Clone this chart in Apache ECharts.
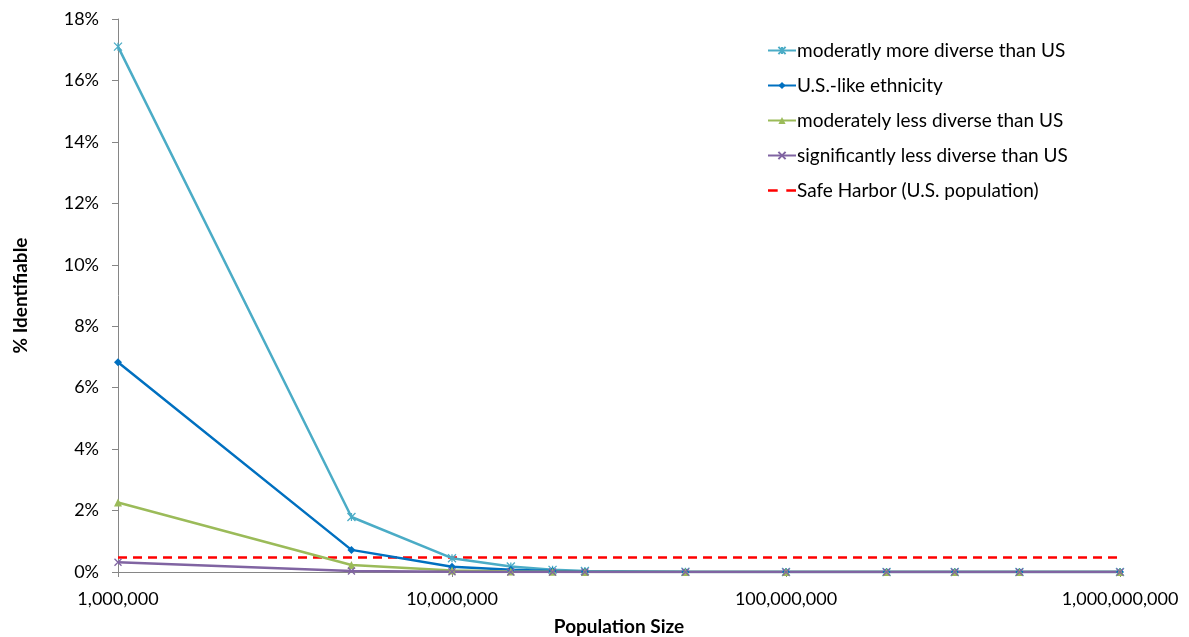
<!DOCTYPE html>
<html><head><meta charset="utf-8">
<script src="https://cdn.jsdelivr.net/npm/echarts@6/dist/echarts.min.js"></script>
<style>html,body{margin:0;padding:0;background:#fff}#c{width:1189px;height:637px}</style>
</head><body><div id="c"></div>
<script>
const populations = [1e6, 5e6, 1e7, 1.5e7, 2e7, 2.5e7, 5e7, 1e8, 2e8, 3.2e8, 5e8, 1e9];
const moreDiverse = [17.1, 1.79, 0.45, 0.18, 0.07, 0.03, 0.01, 0, 0, 0, 0, 0];
const usLike = [6.83, 0.72, 0.17, 0.07, 0.03, 0.01, 0, 0, 0, 0, 0, 0];
const lessDiverse = [2.26, 0.23, 0.05, 0.02, 0.01, 0, 0, 0, 0, 0, 0, 0];
const sigLessDiverse = [0.32, 0.03, 0.01, 0, 0, 0, 0, 0, 0, 0, 0, 0];
const safeHarbor = [0.47, 0.47, 0.47, 0.47, 0.47, 0.47, 0.47, 0.47, 0.47, 0.47, 0.47, 0.47];
const seriesNames = ['moderatly more diverse than US', 'U.S.-like ethnicity', 'moderately less diverse than US', 'significantly less diverse than US', 'Safe Harbor (U.S. population)'];
const xTicks = [1e6, 1e7, 1e8, 1e9];
const yTicks = [0, 2, 4, 6, 8, 10, 12, 14, 16, 18];

const FONT = 'Lato, "Open Sans", sans-serif';
const pair = arr => populations.map((p, i) => [p, arr[i]]);
const star = 'path://M0,0L10,10M10,0L0,10M5,0L5,10';
const cross = 'path://M0,0L10,10M10,0L0,10';

function lineSeries(name, data, color, symbol, size, strokeSym) {
  return {
    name, type: 'line', data: pair(data), symbol, symbolSize: size,
    showSymbol: true,
    lineStyle: { color, width: 2.5 },
    itemStyle: strokeSym ? { color, borderColor: color, borderWidth: 1.3 } : { color },
    emphasis: { disabled: true }, z: 3
  };
}

const chart = echarts.init(document.getElementById('c'));
chart.setOption({
  animation: false,
  backgroundColor: '#fff',
  grid: { left: 118, right: 69, top: 19, bottom: 65, containLabel: false, outerBoundsMode: 'none' },
  legend: {
    orient: 'vertical', left: 762, top: 36, itemGap: 16, itemWidth: 28, itemHeight: 9,
    textStyle: { fontFamily: FONT, fontSize: 19, color: '#000', padding: [0, 0, 0, -4] },
    data: seriesNames.slice(0, 4).map(n => ({ name: n })).concat([{
      name: seriesNames[4],
      icon: 'path://M0,0h9v2.5h-9zM17,0h9v2.5h-9z',
      itemStyle: { color: '#FF0000' }
    }])
  },
  xAxis: {
    type: 'log', logBase: 10, min: 1e6, max: 1e9,
    name: 'Population Size', nameLocation: 'middle', nameGap: 45,
    nameTextStyle: { fontFamily: FONT, fontSize: 19, fontWeight: 'bold', color: '#000' },
    axisLine: { show: true, lineStyle: { color: '#868686', width: 1 } },
    axisTick: { show: true, inside: false, length: 5, lineStyle: { color: '#868686' } },
    minorTick: { show: false },
    splitLine: { show: false },
    axisLabel: {
      fontFamily: FONT, fontSize: 18, color: '#000', margin: 18,
      formatter: v => {
        const r = Math.round(v);
        return xTicks.includes(r) ? r.toLocaleString('en-US') : '';
      }
    }
  },
  yAxis: {
    type: 'value', min: 0, max: 18, interval: 2,
    name: '% Identifiable', nameLocation: 'middle', nameGap: 88, nameRotate: 90,
    nameTextStyle: { fontFamily: FONT, fontSize: 19, fontWeight: 'bold', color: '#000' },
    axisLine: { show: true, lineStyle: { color: '#868686', width: 1 } },
    axisTick: { show: true, inside: false, length: 6, lineStyle: { color: '#868686' } },
    splitLine: { show: false },
    axisLabel: { fontFamily: FONT, fontSize: 18, color: '#000', margin: 19, formatter: v => yTicks.includes(v) ? v + '%' : '' }
  },
  series: [
    lineSeries(seriesNames[0], moreDiverse, '#4BACC6', star, 8, true),
    lineSeries(seriesNames[1], usLike, '#0070C0', 'diamond', 8, false),
    lineSeries(seriesNames[2], lessDiverse, '#9BBB59', 'triangle', 8, false),
    lineSeries(seriesNames[3], sigLessDiverse, '#8064A2', cross, 7, true),
    {
      name: seriesNames[4], type: 'line', data: pair(safeHarbor), symbol: 'none',
      lineStyle: { color: '#FF0000', width: 2.5, type: [9, 6] },
      itemStyle: { color: '#FF0000' },
      emphasis: { disabled: true }, z: 2
    }
  ]
});
</script></body></html>
